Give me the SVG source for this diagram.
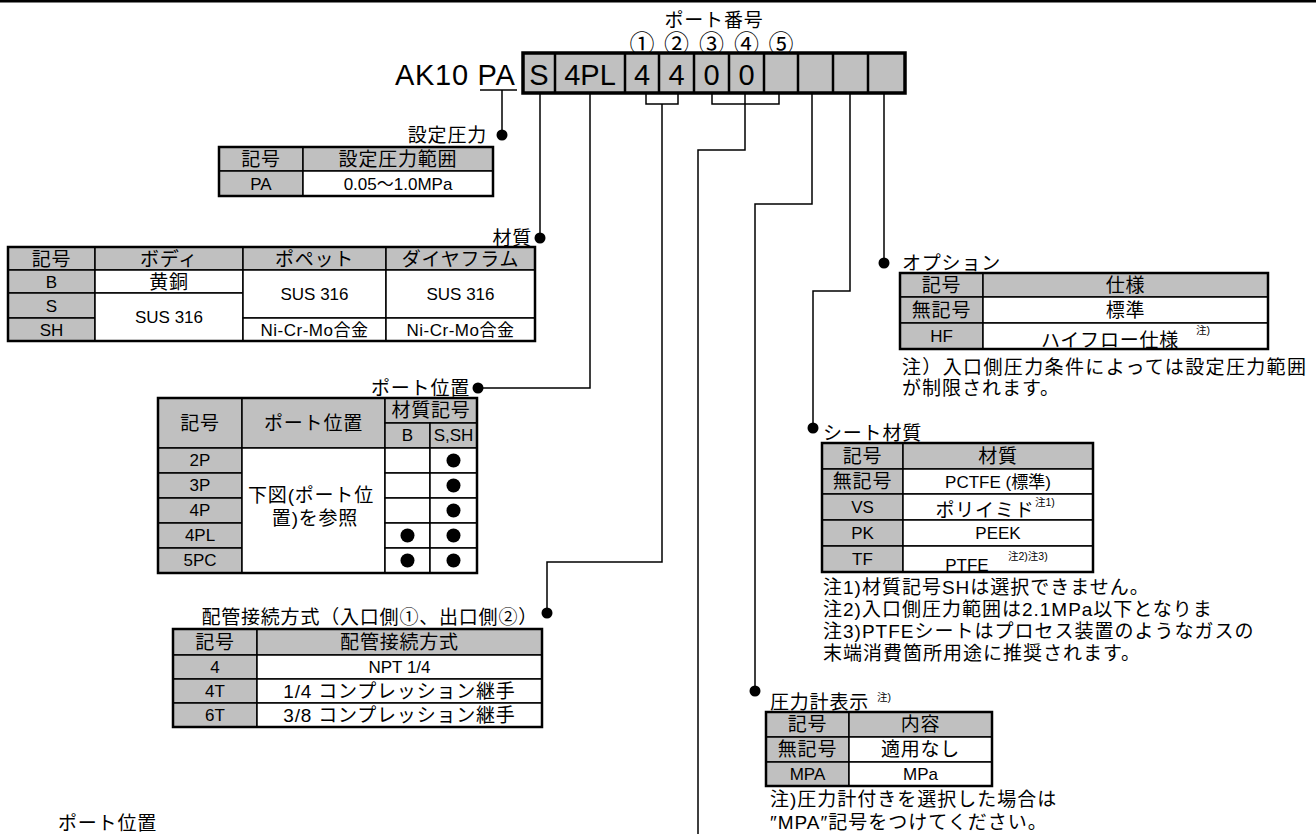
<svg xmlns="http://www.w3.org/2000/svg" width="1316" height="834" viewBox="0 0 1316 834">
<style>
text { font-family: "Liberation Sans", "Noto Sans CJK JP", sans-serif; font-size: 17px; fill: #000; }
.c { text-anchor: middle; }
.e { text-anchor: end; }
.j { font-size: 19px; letter-spacing: 0.8px; }
.n { font-size: 19px; letter-spacing: 1px; }
.sup { font-size: 10.5px; }
.big { font-size: 29px; }
.cir { font-size: 25px; }
.g { fill: #c0c0c0; stroke: #000; stroke-width: 1.5; }
.w { fill: #fff; stroke: #000; stroke-width: 1.5; }
.ob { fill: none; stroke: #000; stroke-width: 2.5; }
.ln { fill: none; stroke: #000; stroke-width: 1.5; }
.sep { stroke: #000; stroke-width: 2.5; }
</style>
<defs>
<clipPath id="clipHF"><rect x="983" y="323" width="285" height="26"/></clipPath>
<clipPath id="clipTF"><rect x="903" y="546" width="190" height="26"/></clipPath>
</defs>
<rect x="0" y="0" width="1316" height="2.5" fill="#000"/>

<g id="code">
<text x="714" y="27" class="c j">ポート番号</text>
<text x="642" y="53" class="c cir">①</text>
<text x="676.5" y="53" class="c cir">②</text>
<text x="711.5" y="53" class="c cir">③</text>
<text x="746.5" y="53" class="c cir">④</text>
<text x="781" y="53" class="c cir">⑤</text>
<text x="395" y="85" class="big" style="letter-spacing:0.7px">AK10 PA</text>
<rect x="523" y="53" width="382" height="40" fill="#c0c0c0" stroke="#000" stroke-width="3.5"/>
<path class="sep" d="M555 53V93M625 53V93M659 53V93M694 53V93M729 53V93M764 53V93M798 53V93M833 53V93M868 53V93"/>
<text x="539" y="85" class="big c">S</text>
<text x="590" y="85" class="big c">4PL</text>
<text x="642" y="85" class="big c">4</text>
<text x="676.5" y="85" class="big c">4</text>
<text x="711.5" y="85" class="big c">0</text>
<text x="746.5" y="85" class="big c">0</text>
</g>

<g id="connectors">
<path class="ln" d="M480 90H517M502 90V135"/>
<path class="ln" d="M540 93V238"/>
<path class="ln" d="M590 93V388H478"/>
<path class="ln" d="M646 93V104H678V93M662 104V562H547V613"/>
<path class="ln" d="M712 93V104H779V93M745 93V150H698V834"/>
<path class="ln" d="M812 93V204H755V691"/>
<path class="ln" d="M850 93V291H813V428"/>
<path class="ln" d="M884 93V263"/>
<circle cx="502" cy="135" r="5.5"/>
<circle cx="540" cy="238" r="5.5"/>
<circle cx="478" cy="388" r="5.5"/>
<circle cx="547" cy="613" r="5.5"/>
<circle cx="755" cy="691" r="5.5"/>
<circle cx="813" cy="428" r="5.5"/>
<circle cx="884" cy="263" r="5.5"/>
</g>

<g id="node-settei-atsuryoku">
<text x="487" y="142" class="e j">設定圧力</text>
<rect class="g" x="219" y="147" width="84" height="24"/>
<rect class="g" x="303" y="147" width="190" height="24"/>
<rect class="g" x="219" y="171" width="84" height="25"/>
<rect class="w" x="303" y="171" width="190" height="25"/>
<rect class="ob" x="219" y="147" width="274" height="49"/>
<text x="261" y="166" class="c j">記号</text>
<text x="398" y="166" class="c j">設定圧力範囲</text>
<text x="261" y="190" class="c">PA</text>
<text x="398" y="190" class="c">0.05～1.0MPa</text>
</g>

<g id="node-zaishitsu">
<text x="532" y="245" class="e j">材質</text>
<rect class="g" x="8" y="247" width="87" height="23"/>
<rect class="g" x="95" y="247" width="148" height="23"/>
<rect class="g" x="243" y="247" width="143" height="23"/>
<rect class="g" x="386" y="247" width="149" height="23"/>
<rect class="g" x="8" y="270" width="87" height="23"/>
<rect class="g" x="8" y="293" width="87" height="25"/>
<rect class="g" x="8" y="318" width="87" height="23"/>
<rect class="w" x="95" y="270" width="148" height="23"/>
<rect class="w" x="95" y="293" width="148" height="48"/>
<rect class="w" x="243" y="270" width="143" height="48"/>
<rect class="w" x="243" y="318" width="143" height="23"/>
<rect class="w" x="386" y="270" width="149" height="48"/>
<rect class="w" x="386" y="318" width="149" height="23"/>
<rect class="ob" x="8" y="247" width="527" height="94"/>
<text x="51.5" y="265.5" class="c j">記号</text>
<text x="169" y="265.5" class="c j">ボディ</text>
<text x="314.5" y="265.5" class="c j">ポペット</text>
<text x="460.5" y="265.5" class="c j">ダイヤフラム</text>
<text x="51.5" y="288" class="c">B</text>
<text x="169" y="288.5" class="c j">黄銅</text>
<text x="51.5" y="312" class="c">S</text>
<text x="51.5" y="336" class="c">SH</text>
<text x="169" y="323" class="c">SUS 316</text>
<text x="314.5" y="300" class="c">SUS 316</text>
<text x="460.5" y="300" class="c">SUS 316</text>
<text x="314.5" y="336" class="c" style="letter-spacing:0.5px">Ni-Cr-Mo合金</text>
<text x="460.5" y="336" class="c" style="letter-spacing:0.5px">Ni-Cr-Mo合金</text>
</g>

<g id="node-port-ichi">
<text x="470" y="395" class="e j">ポート位置</text>
<rect class="g" x="158" y="398" width="84" height="50"/>
<rect class="g" x="242" y="398" width="143" height="50"/>
<rect class="g" x="385" y="398" width="92" height="25"/>
<rect class="g" x="385" y="423" width="45" height="25"/>
<rect class="g" x="430" y="423" width="47" height="25"/>
<rect class="g" x="158" y="448" width="84" height="25"/>
<rect class="g" x="158" y="473" width="84" height="25"/>
<rect class="g" x="158" y="498" width="84" height="25"/>
<rect class="g" x="158" y="523" width="84" height="25"/>
<rect class="g" x="158" y="548" width="84" height="25"/>
<rect class="w" x="242" y="448" width="143" height="125"/>
<rect class="w" x="385" y="448" width="45" height="25"/>
<rect class="w" x="385" y="473" width="45" height="25"/>
<rect class="w" x="385" y="498" width="45" height="25"/>
<rect class="w" x="385" y="523" width="45" height="25"/>
<rect class="w" x="385" y="548" width="45" height="25"/>
<rect class="w" x="430" y="448" width="47" height="25"/>
<rect class="w" x="430" y="473" width="47" height="25"/>
<rect class="w" x="430" y="498" width="47" height="25"/>
<rect class="w" x="430" y="523" width="47" height="25"/>
<rect class="w" x="430" y="548" width="47" height="25"/>
<rect class="ob" x="158" y="398" width="319" height="175"/>
<text x="200" y="430" class="c j">記号</text>
<text x="313.5" y="430" class="c j">ポート位置</text>
<text x="431" y="417" class="c j">材質記号</text>
<text x="407.5" y="441" class="c">B</text>
<text x="453.5" y="441" class="c">S,SH</text>
<text x="200" y="466" class="c">2P</text>
<text x="200" y="491" class="c">3P</text>
<text x="200" y="516" class="c">4P</text>
<text x="200" y="541" class="c">4PL</text>
<text x="200" y="566" class="c">5PC</text>
<text x="311" y="502" class="c j">下図(ポート位</text>
<text x="315" y="525" class="c j">置)を参照</text>
<circle cx="453.5" cy="460.5" r="7"/>
<circle cx="453.5" cy="485.5" r="7"/>
<circle cx="453.5" cy="510.5" r="7"/>
<circle cx="453.5" cy="535.5" r="7"/>
<circle cx="453.5" cy="560.5" r="7"/>
<circle cx="407.5" cy="535.5" r="7"/>
<circle cx="407.5" cy="560.5" r="7"/>
</g>

<g id="node-haikan">
<text x="538" y="624" class="e j">配管接続方式（入口側①、出口側②）</text>
<rect class="g" x="173" y="629" width="84" height="26"/>
<rect class="g" x="257" y="629" width="285" height="26"/>
<rect class="g" x="173" y="655" width="84" height="24"/>
<rect class="w" x="257" y="655" width="285" height="24"/>
<rect class="g" x="173" y="679" width="84" height="24"/>
<rect class="w" x="257" y="679" width="285" height="24"/>
<rect class="g" x="173" y="703" width="84" height="24"/>
<rect class="w" x="257" y="703" width="285" height="24"/>
<rect class="ob" x="173" y="629" width="369" height="98"/>
<text x="215" y="649" class="c j">記号</text>
<text x="399.5" y="649" class="c j">配管接続方式</text>
<text x="215" y="673" class="c">4</text>
<text x="399.5" y="673" class="c">NPT 1/4</text>
<text x="215" y="697" class="c">4T</text>
<text x="399.5" y="698" class="c j">1/4 コンプレッション継手</text>
<text x="215" y="721" class="c">6T</text>
<text x="399.5" y="722" class="c j">3/8 コンプレッション継手</text>
</g>

<g id="node-option">
<text x="902" y="270" class="j">オプション</text>
<rect class="g" x="900" y="273" width="83" height="24"/>
<rect class="g" x="983" y="273" width="285" height="24"/>
<rect class="g" x="900" y="297" width="83" height="26"/>
<rect class="w" x="983" y="297" width="285" height="26"/>
<rect class="g" x="900" y="323" width="83" height="26"/>
<rect class="w" x="983" y="323" width="285" height="26"/>
<text x="941.5" y="292" class="c j">記号</text>
<text x="1125.5" y="292" class="c j">仕様</text>
<text x="941.5" y="317" class="c j">無記号</text>
<text x="1125.5" y="317" class="c j">標準</text>
<text x="941.5" y="342" class="c">HF</text>
<text x="1110" y="347" class="c j" clip-path="url(#clipHF)">ハイフロー仕様</text>
<text x="1196" y="334" class="sup">注)</text>
<rect class="ob" x="900" y="273" width="368" height="76"/>
<text x="902" y="374" class="n" textLength="405" lengthAdjust="spacing">注）入口側圧力条件によっては設定圧力範囲</text>
<text x="902" y="395" class="n">が制限されます。</text>
</g>

<g id="node-seat">
<text x="823" y="440" class="j">シート材質</text>
<rect class="g" x="822" y="443" width="81" height="26"/>
<rect class="g" x="903" y="443" width="190" height="26"/>
<rect class="g" x="822" y="469" width="81" height="25"/>
<rect class="w" x="903" y="469" width="190" height="25"/>
<rect class="g" x="822" y="494" width="81" height="26"/>
<rect class="w" x="903" y="494" width="190" height="26"/>
<rect class="g" x="822" y="520" width="81" height="26"/>
<rect class="w" x="903" y="520" width="190" height="26"/>
<rect class="g" x="822" y="546" width="81" height="26"/>
<rect class="w" x="903" y="546" width="190" height="26"/>
<text x="862.5" y="463" class="c j">記号</text>
<text x="998" y="463" class="c j">材質</text>
<text x="862.5" y="488" class="c j">無記号</text>
<text x="998" y="488" class="c">PCTFE (標準)</text>
<text x="862.5" y="513" class="c">VS</text>
<text x="985" y="517" class="c j">ポリイミド</text>
<text x="1035" y="506" class="sup">注1)</text>
<text x="862.5" y="539" class="c">PK</text>
<text x="998" y="539" class="c">PEEK</text>
<text x="862.5" y="565" class="c">TF</text>
<text x="967" y="571" class="c" clip-path="url(#clipTF)">PTFE</text>
<text x="1008" y="560" class="sup">注2)注3)</text>
<rect class="ob" x="822" y="443" width="271" height="129"/>
<text x="823" y="594" class="n">注1)材質記号SHは選択できません。</text>
<text x="823" y="616" class="n">注2)入口側圧力範囲は2.1MPa以下となりま</text>
<text x="823" y="638" class="n">注3)PTFEシートはプロセス装置のようなガスの</text>
<text x="823" y="660" class="n">末端消費箇所用途に推奨されます。</text>
</g>

<g id="node-gauge">
<text x="770" y="709" class="j">圧力計表示</text>
<text x="877" y="701" class="sup">注)</text>
<rect class="g" x="766" y="712" width="83" height="25"/>
<rect class="g" x="849" y="712" width="143" height="25"/>
<rect class="g" x="766" y="737" width="83" height="25"/>
<rect class="w" x="849" y="737" width="143" height="25"/>
<rect class="g" x="766" y="762" width="83" height="24"/>
<rect class="w" x="849" y="762" width="143" height="24"/>
<rect class="ob" x="766" y="712" width="226" height="74"/>
<text x="807.5" y="731" class="c j">記号</text>
<text x="920.5" y="731" class="c j">内容</text>
<text x="807.5" y="756" class="c j">無記号</text>
<text x="920.5" y="756" class="c j">適用なし</text>
<text x="807.5" y="780" class="c">MPA</text>
<text x="920.5" y="780" class="c">MPa</text>
<text x="770" y="806" class="n">注)圧力計付きを選択した場合は</text>
<text x="770" y="829" class="n">″MPA″記号をつけてください。</text>
</g>

<g id="node-port-figure">
<text x="58" y="830" class="j">ポート位置</text>
</g>
</svg>
